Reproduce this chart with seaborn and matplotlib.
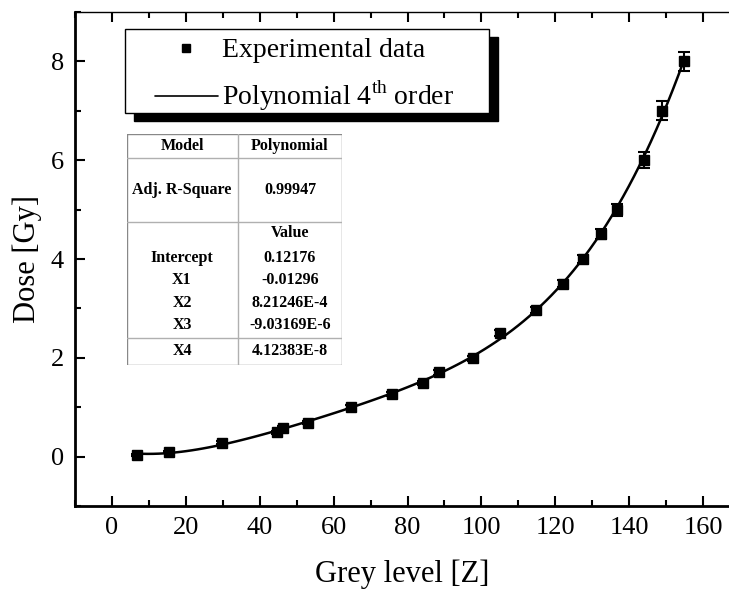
import numpy as np
import pandas as pd
import seaborn as sns
import matplotlib.pyplot as plt
from matplotlib.lines import Line2D
from matplotlib.patches import Rectangle
from matplotlib.ticker import MultipleLocator

# grey level vs dose
grey = [6.7, 15.4, 29.7, 44.6, 46.4, 53.0, 64.7, 75.8, 84.3, 88.4,
        97.6, 105.1, 114.8, 122.0, 127.5, 132.3, 136.7, 143.9, 148.9, 154.8]
dose = [0.04, 0.09, 0.28, 0.49, 0.58, 0.69, 1.00, 1.27, 1.49, 1.71,
        1.99, 2.50, 2.97, 3.50, 4.00, 4.51, 5.00, 6.01, 7.00, 8.00]
dose_err = [0.02, 0.02, 0.03, 0.03, 0.03, 0.03, 0.04, 0.04, 0.05, 0.05,
            0.05, 0.06, 0.06, 0.07, 0.08, 0.10, 0.12, 0.16, 0.19, 0.20]

table_left = ["Model", "Adj. R-Square", "", "Intercept", "X1", "X2", "X3", "X4"]
table_right = ["Polynomial", "0.99947", "Value", "0.12176", "-0.01296",
               "8.21246E-4", "-9.03169E-6", "4.12383E-8"]

df = pd.DataFrame({"grey": grey, "dose": dose, "err": dose_err})

sns.set_style("ticks", {"axes.edgecolor": "black", "text.color": "black",
                        "axes.labelcolor": "black", "xtick.color": "black",
                        "ytick.color": "black"})
plt.rcParams["font.family"] = ["Liberation Serif", "DejaVu Serif"]
plt.rcParams["mathtext.fontset"] = "custom"
plt.rcParams["mathtext.rm"] = "Liberation Serif"

W, H = 729, 594
fig = plt.figure(figsize=(W / 100, H / 100), dpi=100)
ax = fig.add_axes([75 / W, 1 - 506 / H, 1 - 75 / W, (506 - 12) / H])

sns.regplot(data=df, x="grey", y="dose", order=4, ci=None, scatter=False,
            color="black", line_kws={"lw": 1.8}, ax=ax)
ax.errorbar(df["grey"], df["dose"], yerr=df["err"], fmt="s", color="black",
            ms=6.5, capsize=4, capthick=1.5, elinewidth=1.5, zorder=3)

ax.set_xlim(-10, 167)
ax.set_ylim(-1, 9)
ax.xaxis.set_major_locator(MultipleLocator(20))
ax.xaxis.set_minor_locator(MultipleLocator(10))
ax.yaxis.set_major_locator(MultipleLocator(2))
ax.yaxis.set_minor_locator(MultipleLocator(1))
ax.tick_params(which="both", direction="in", top=True, right=False, width=1.5)
ax.tick_params(which="major", length=7, labelsize=19, pad=8)
ax.tick_params(which="minor", length=4)
ax.spines["right"].set_visible(False)
ax.spines["left"].set_linewidth(2)
ax.spines["bottom"].set_linewidth(2)
ax.spines["top"].set_linewidth(1)
ax.set_xlabel("Grey level [Z]", fontsize=22, labelpad=15)
ax.set_ylabel("Dose [Gy]", fontsize=22, labelpad=6)

# legend frame with solid black shadow
bx, by, bw, bh = 125, 29, 364, 84
ax.add_patch(Rectangle(((bx + 9) / W, 1 - (by + bh + 8) / H), bw / W, bh / H,
                       transform=fig.transFigure, facecolor="black",
                       edgecolor="black", clip_on=False, zorder=4))
ax.add_patch(Rectangle((bx / W, 1 - (by + bh) / H), bw / W, bh / H,
                       transform=fig.transFigure, facecolor="white",
                       edgecolor="black", lw=1, clip_on=False, zorder=4.5))

handles = [Line2D([], [], ls="none", marker="s", color="black", ms=6),
           Line2D([], [], color="black", lw=1.2)]
ax.legend(handles, ["Experimental data", r"Polynomial 4$^{\rm th}$ order"],
          loc="upper left", bbox_to_anchor=((155 - 75) / 654, 1 - (38 - 12) / 494),
          fontsize=20, frameon=False, handlelength=2.25, handletextpad=0.15,
          labelspacing=0.55, borderpad=0, borderaxespad=0)

# fit parameter table
tab = fig.add_axes([127 / W, 1 - 365 / H, 215 / W, 231 / H])
tab.set_xlim(0, 215)
tab.set_ylim(231, 0)
tab.axis("off")
grey_line = "#b0b0b0"
tab.plot([0, 215, 215, 0, 0], [0, 0, 231, 231, 0], color="#888888", lw=1)
tab.plot([111, 111], [0, 231], color=grey_line, lw=1)
for yl in [24, 88, 204]:
    tab.plot([0, 215], [yl, yl], color=grey_line, lw=1)
row_y = [12, 56, 99, 124, 146, 169, 191, 217]
for y, l, r in zip(row_y, table_left, table_right):
    tab.text(55, y, l, ha="center", va="center", fontsize=11.5, fontweight="bold")
    tab.text(163, y, r, ha="center", va="center", fontsize=11.5, fontweight="bold")

fig.savefig("out.png", dpi=100)
